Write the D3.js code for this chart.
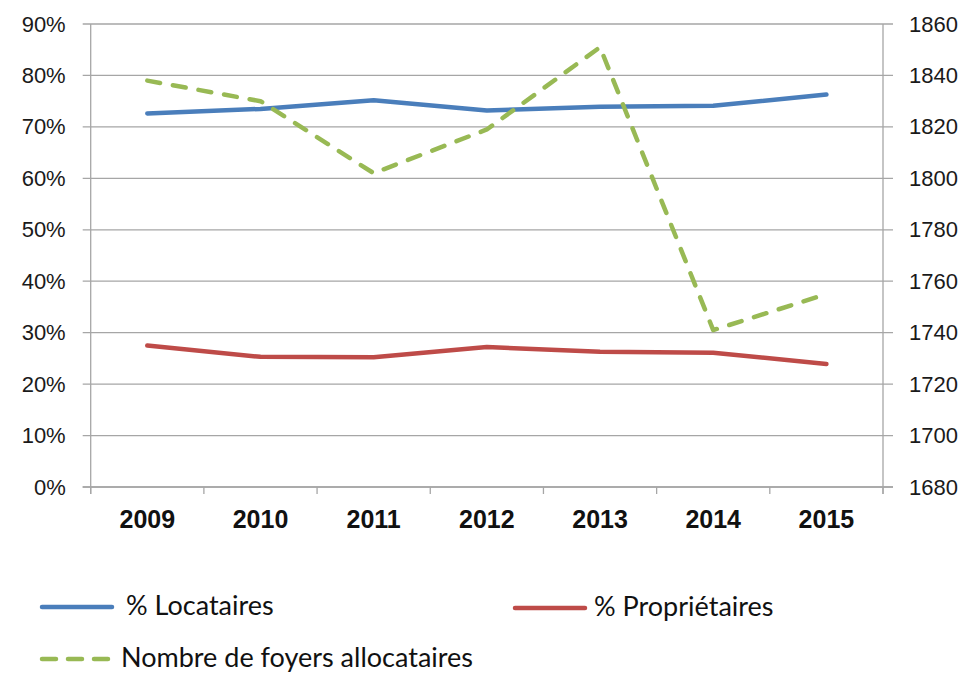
<!DOCTYPE html>
<html>
<head>
<meta charset="utf-8">
<script src="https://cdn.jsdelivr.net/npm/d3@7"></script>
<style>
  body { margin: 0; background: #fff; }
  svg { display: block; font-family: Lato, "Open Sans", sans-serif; }
  .grid line { stroke: #a6a6a6; stroke-width: 1.3; }
  .axis path, .axis line { stroke: #a6a6a6; stroke-width: 1.3; }
  .tick text { fill: #1a1a1a; }
</style>
</head>
<body>
<svg width="967" height="674"></svg>
<script>
const years = ["2009", "2010", "2011", "2012", "2013", "2014", "2015"];
const locataires = [72.6, 73.5, 75.2, 73.2, 73.9, 74.1, 76.3];
const proprietaires = [27.5, 25.3, 25.2, 27.2, 26.3, 26.1, 23.9];
const foyers = [1838, 1830, 1802, 1819, 1851, 1741, 1755];
const pctTicks = [0, 10, 20, 30, 40, 50, 60, 70, 80, 90];
const countTicks = [1680, 1700, 1720, 1740, 1760, 1780, 1800, 1820, 1840, 1860];

const svg = d3.select("svg");
const plotLeft = 90.7, plotRight = 883, plotTop = 24, plotBottom = 487;

const x = d3.scaleBand().domain(years).range([plotLeft, plotRight]);
const yL = d3.scaleLinear().domain([0, 90]).range([plotBottom, plotTop]);
const yR = d3.scaleLinear().domain([1680, 1860]).range([plotBottom, plotTop]);

// gridlines
svg.append("g").attr("class", "grid")
  .selectAll("line").data(pctTicks).enter().append("line")
  .attr("x1", plotLeft - 8).attr("x2", plotRight + 10)
  .attr("y1", d => yL(d)).attr("y2", d => yL(d));

// left axis
const axL = svg.append("g").attr("class", "axis")
  .attr("transform", "translate(" + plotLeft + ",0)")
  .call(d3.axisLeft(yL).tickValues(pctTicks).tickSize(0).tickPadding(25).tickFormat(d => d + "%"));
axL.select(".domain").attr("d", "M0," + plotTop + "V" + (plotBottom + 7));
axL.selectAll("text").style("font-size", "22px");

// right axis
const axR = svg.append("g").attr("class", "axis")
  .attr("transform", "translate(" + plotRight + ",0)")
  .call(d3.axisRight(yR).tickValues(countTicks).tickSize(0).tickPadding(26).tickFormat(d3.format("d")));
axR.select(".domain").attr("d", "M0," + plotTop + "V" + (plotBottom + 7));
axR.selectAll("text").style("font-size", "22px");

// bottom axis
const axB = svg.append("g").attr("class", "axis")
  .attr("transform", "translate(0," + plotBottom + ")")
  .call(d3.axisBottom(x).tickSize(0).tickPadding(23));
axB.select(".domain").attr("d", "M" + (plotLeft - 8) + ",0H" + (plotRight + 10));
axB.selectAll("text").style("font-size", "25px").style("font-weight", "bold").style("fill", "#111");
axB.selectAll(".bound").data(years.concat(["end"])).enter().append("line")
  .attr("class", "bound")
  .attr("x1", (d, i) => plotLeft + i * x.step()).attr("x2", (d, i) => plotLeft + i * x.step())
  .attr("y1", 0).attr("y2", 7);

const cx = d => x(d) + x.bandwidth() / 2;

const series = [
  { name: "% Locataires", values: locataires, y: yL, color: "#4a7ebb", dash: null },
  { name: "% Propriétaires", values: proprietaires, y: yL, color: "#be4b48", dash: null },
  { name: "Nombre de foyers allocataires", values: foyers, y: yR, color: "#98b954", dash: "13,13" }
];

series.forEach(s => {
  const line = d3.line().x((d, i) => cx(years[i])).y(d => s.y(d));
  svg.append("path")
    .datum(s.values)
    .attr("d", line)
    .attr("fill", "none")
    .attr("stroke", s.color)
    .attr("stroke-width", 4.5)
    .attr("stroke-linecap", "round")
    .attr("stroke-linejoin", "round")
    .attr("stroke-dasharray", s.dash);
});

// legend
const legendPos = [
  { x: 42, y: 607, tx: 126 },
  { x: 515, y: 608, tx: 594 },
  { x: 42, y: 659, tx: 121 }
];
series.forEach((s, i) => {
  const p = legendPos[i];
  const g = svg.append("g");
  g.append("line")
    .attr("x1", p.x).attr("x2", p.x + 70)
    .attr("y1", p.y).attr("y2", p.y)
    .attr("stroke", s.color).attr("stroke-width", 4.5)
    .attr("stroke-linecap", "round")
    .attr("stroke-dasharray", s.dash ? "14,12" : null);
  g.append("text")
    .attr("x", p.tx).attr("y", p.y)
    .attr("dy", "0.3em")
    .style("font-size", "27px")
    .style("fill", "#111")
    .text(s.name);
});
</script>
</body>
</html>
